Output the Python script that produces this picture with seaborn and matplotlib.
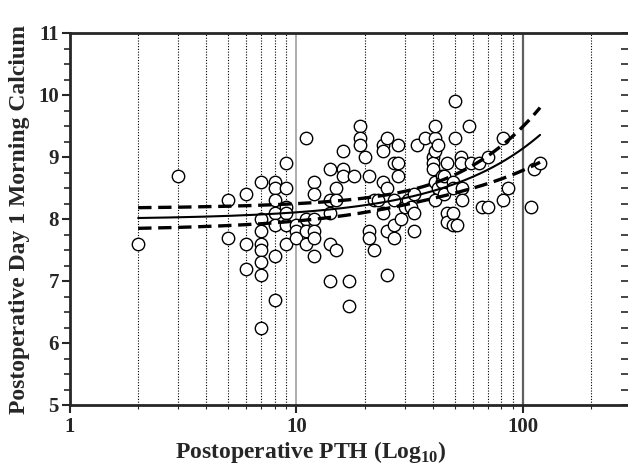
import numpy as np
import pandas as pd
import matplotlib
matplotlib.use("Agg")
import matplotlib.pyplot as plt
from matplotlib.ticker import FixedLocator, MultipleLocator, NullFormatter
import seaborn as sns

# --- data (PTH, day-1 morning calcium) ---
pth = [2, 3, 5, 5, 6, 6, 6,
       7, 7, 7, 7, 7, 7, 7, 7,
       8, 8, 8, 8, 8, 8, 8,
       9, 9, 9, 9, 9, 9,
       10, 10, 10,
       11, 11, 11, 11,
       12, 12, 12, 12, 12, 12,
       14, 14, 14, 14, 14,
       15, 15, 15,
       16, 16, 16,
       17, 17, 18,
       19, 19, 19, 20,
       21, 21, 21, 22, 22, 23,
       24, 24, 24, 24,
       25, 25, 25, 25,
       27, 27, 27, 27,
       28, 28, 28, 29, 30, 31, 32,
       33, 33, 33, 34, 37,
       40, 40, 40,
       41, 41, 41, 41, 41,
       42, 42, 44, 44, 45, 45,
       46, 46, 46,
       49, 49, 49, 49,
       50, 50, 51, 53, 53, 54, 54,
       58, 59, 64, 66, 70, 70,
       82, 82, 86, 108, 112, 119]
calcium = [7.6, 8.7, 8.3, 7.7, 8.4, 7.6, 7.2,
           8.6, 8.0, 7.8, 7.6, 7.5, 7.3, 7.1, 6.25,
           8.6, 8.5, 8.3, 8.1, 7.9, 7.4, 6.7,
           8.9, 8.5, 8.2, 8.1, 7.9, 7.6,
           7.9, 7.8, 7.7,
           9.3, 8.0, 7.8, 7.6,
           8.6, 8.4, 8.0, 7.8, 7.7, 7.4,
           8.8, 8.3, 8.1, 7.6, 7.0,
           8.5, 8.3, 7.5,
           9.1, 8.8, 8.7,
           7.0, 6.6, 8.7,
           9.5, 9.3, 9.2, 9.0,
           8.7, 7.8, 7.7, 8.3, 7.5, 8.3,
           9.2, 9.1, 8.6, 8.1,
           9.3, 8.5, 7.8, 7.1,
           8.9, 8.3, 7.9, 7.7,
           9.2, 8.9, 8.7, 8.0, 8.2, 8.3, 8.2,
           8.4, 8.1, 7.8, 9.2, 9.3,
           9.0, 8.9, 8.8,
           9.3, 9.1, 8.6, 8.3, 9.5,
           9.2, 8.5, 8.7, 8.6, 8.4, 8.7,
           8.9, 8.1, 7.95,
           8.6, 8.5, 8.1, 7.9,
           9.9, 9.3, 7.9, 9.0, 8.9, 8.5, 8.3,
           9.5, 8.9, 8.9, 8.2, 9.0, 8.2,
           9.3, 8.3, 8.5, 8.2, 8.8, 8.9]

y_ticks = [5, 6, 7, 8, 9, 10, 11]
x_major = [1, 10, 100]
x_dotted = [2, 3, 4, 5, 6, 7, 8, 9, 20, 30, 40, 50, 60, 70, 80, 90, 200]

df = pd.DataFrame({"pth": pth, "calcium": calcium})

# linear fit with 95% confidence band of the mean
x = df["pth"].to_numpy(float)
y = df["calcium"].to_numpy(float)
n = len(x)
slope, intercept = np.polyfit(x, y, 1)
resid = y - (intercept + slope * x)
s = np.sqrt(np.sum(resid ** 2) / (n - 2))
sxx = np.sum((x - x.mean()) ** 2)
xs = np.linspace(x.min(), x.max(), 300)
fit = intercept + slope * xs
half = 1.977 * s * np.sqrt(1 / n + (xs - x.mean()) ** 2 / sxx)
curves = pd.DataFrame({"pth": xs, "fit": fit, "lo": fit - half, "hi": fit + half})

sns.set_theme(style="ticks")
plt.rcParams["font.family"] = ["Liberation Serif", "DejaVu Serif"]
plt.rcParams["font.weight"] = "bold"
plt.rcParams["mathtext.fontset"] = "custom"
plt.rcParams["mathtext.rm"] = "Liberation Serif:bold"
plt.rcParams["mathtext.bf"] = "Liberation Serif:bold"

fig = plt.figure(figsize=(6.28, 4.71), dpi=100)
ax = fig.add_axes([70 / 628, 1 - 405 / 471, 561 / 628, 372 / 471])

for xv in x_dotted:
    ax.axvline(xv, color="black", lw=0.8, ls=(0, (1, 1.5)), zorder=1)
ax.axvline(10, color="#a0a0a0", lw=1.2, zorder=1)
ax.axvline(100, color="#606060", lw=1.6, zorder=1)

sns.scatterplot(data=df, x="pth", y="calcium", ax=ax, marker="o", s=80,
                facecolor="white", edgecolor="black", linewidth=1.0, zorder=3)

ax.plot(curves["pth"], curves["fit"], color="black", lw=1.5, zorder=4)
ax.plot(curves["pth"], curves["hi"], color="black", lw=2.4, ls=(0, (4, 2)), zorder=4)
ax.plot(curves["pth"], curves["lo"], color="black", lw=2.4, ls=(0, (4, 2)), zorder=4)

ax.set_xscale("log")
ax.set_xlim(1, 300)
ax.set_ylim(5, 11)
ax.xaxis.set_major_locator(FixedLocator(x_major))
ax.xaxis.set_minor_locator(FixedLocator(x_dotted))
ax.xaxis.set_minor_formatter(NullFormatter())
ax.set_xticklabels([str(v) for v in x_major])
ax.yaxis.set_major_locator(FixedLocator(y_ticks))
ax.yaxis.set_minor_locator(MultipleLocator(0.25))

for side in ["left", "bottom", "top"]:
    ax.spines[side].set_linewidth(2.0)
ax.spines["right"].set_visible(False)
ax.tick_params(axis="y", which="major", direction="out", length=6, width=1.5,
               labelsize=15, pad=2)
ax.tick_params(axis="y", which="minor", direction="out", length=4, width=1.2)
ax.tick_params(axis="x", which="major", direction="out", length=6, width=1.5,
               labelsize=15, pad=3)
ax.tick_params(axis="x", which="minor", direction="out", length=3, width=0.8)
for lab in ax.get_xticklabels() + ax.get_yticklabels():
    lab.set_fontweight("bold")

# right-hand axis (sits just past the image edge) only shows inward ticks
twin = ax.twinx()
twin.set_ylim(5, 11)
twin.yaxis.set_major_locator(FixedLocator(y_ticks))
twin.yaxis.set_minor_locator(MultipleLocator(0.25))
twin.tick_params(axis="y", which="both", direction="in", length=7, width=1.2,
                 labelright=False)
for side in ["left", "bottom", "top", "right"]:
    twin.spines[side].set_visible(False)

ax.set_xlabel("Postoperative PTH (Log$_{\\mathbf{10}}$)", fontsize=17, fontweight="bold")
ax.xaxis.set_label_coords((311 - 70) / 561, -0.092)
ax.set_ylabel("Postoperative Day 1 Morning Calcium", fontsize=17, fontweight="bold", labelpad=6)

fig.savefig("out.png", dpi=100)
